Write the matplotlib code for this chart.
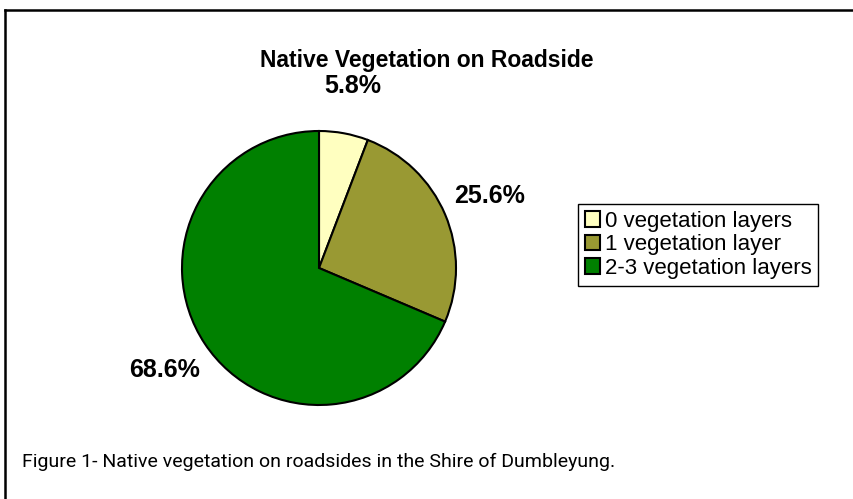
import matplotlib.pyplot as plt
from matplotlib.lines import Line2D

# data
categories = ["0 vegetation layers", "1 vegetation layer", "2-3 vegetation layers"]
shares = [5.8, 25.6, 68.6]
colors = ["#FFFFC0", "#999933", "#008000"]

title = "Native Vegetation on Roadside"
caption = "Figure 1- Native vegetation on roadsides in the Shire of Dumbleyung."

W, H = 854, 499
fig = plt.figure(figsize=(W / 100, H / 100), dpi=100)
fig.patch.set_facecolor("white")

# pie axes: centre (319, 268), radius ~137 px
cx, cy, r = 319, 268, 137
ax = fig.add_axes([(cx - r) / W, (H - cy - r) / H, 2 * r / W, 2 * r / H])
wedges, texts, autotexts = ax.pie(
    shares, colors=colors, startangle=90, counterclock=False,
    wedgeprops=dict(edgecolor="black", linewidth=1.5),
    autopct="%1.1f%%", pctdistance=1.35,
    textprops=dict(fontsize=18, fontweight="bold", family="Liberation Sans"),
)
ax.set_xlim(-1, 1)
ax.set_ylim(-1, 1)
ax.set_aspect("equal")

fig.text(427 / W, 1 - 60 / H, title, ha="center", va="center",
         fontsize=16.5, fontweight="bold", family="Liberation Sans")

leg = fig.legend(wedges, categories, loc="upper left",
                 bbox_to_anchor=(578 / W, 1 - 204 / H),
                 prop=dict(family="Liberation Sans", size=16),
                 frameon=True, fancybox=False, framealpha=1,
                 handlelength=0.7, handleheight=0.7, handletextpad=0.2,
                 labelspacing=0.12, borderpad=0.3, borderaxespad=0)
leg.get_frame().set_edgecolor("black")
leg.get_frame().set_linewidth(1.0)

fig.text(22 / W, 1 - 462 / H, caption, ha="left", va="center",
         fontsize=14, family="Roboto")

# outer frame (top and left edges visible)
fig.add_artist(Line2D([5 / W, 1], [1 - 10 / H, 1 - 10 / H], transform=fig.transFigure,
                      color="black", linewidth=1.8))
fig.add_artist(Line2D([5 / W, 5 / W], [0, 1 - 10 / H], transform=fig.transFigure,
                      color="black", linewidth=1.8))

fig.savefig("out.png", dpi=100)
